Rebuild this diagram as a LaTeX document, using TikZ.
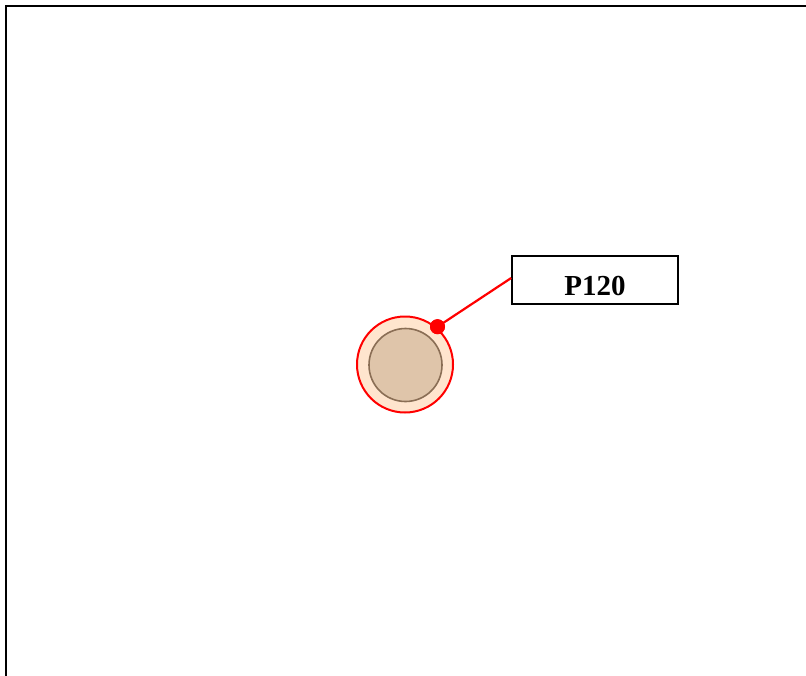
\documentclass[tikz,border=0pt]{standalone}
\usepackage{fontspec}
\setmainfont{Liberation Serif}
\begin{document}
\begin{tikzpicture}[x=1pt,y=-1pt,
  frame/.style={draw=black,line width=2pt},
  outerring/.style={circle,draw=red,fill=outerfill,line width=2pt,minimum size=96pt,inner sep=0pt},
  innerdisc/.style={circle,draw=innerstroke,fill=innerfill,line width=1.6pt,minimum size=73pt,inner sep=0pt},
  labelbox/.style={draw=black,line width=1.6pt,fill=white,minimum width=166pt,minimum height=48pt,inner sep=0pt,
    text height=30pt,text depth=0pt,font=\fontsize{29}{30}\selectfont\bfseries},
  leader/.style={draw=red,line width=2.2pt},
  pin/.style={circle,fill=red,inner sep=0pt,minimum size=15pt}]
\definecolor{outerfill}{HTML}{FFE5CE}
\definecolor{innerfill}{HTML}{DFC5AA}
\definecolor{innerstroke}{HTML}{8A6E55}
\useasboundingbox (0,0) rectangle (806,675);
\clip (0,0) rectangle (806,675);
\draw[frame] (5.5,5.5) rectangle (860,730);
\node[outerring] (outer) at (405,364.5) {};
\node[innerdisc] (inner) at (405.5,365) {};
\node[labelbox] (box) at (595,280) {P120};
\node[pin] (dot) at (437.5,326.7) {};
\draw[leader] (dot.center) -- ([yshift=2pt]box.west);
\node[pin] at (dot) {};
\end{tikzpicture}
\end{document}
